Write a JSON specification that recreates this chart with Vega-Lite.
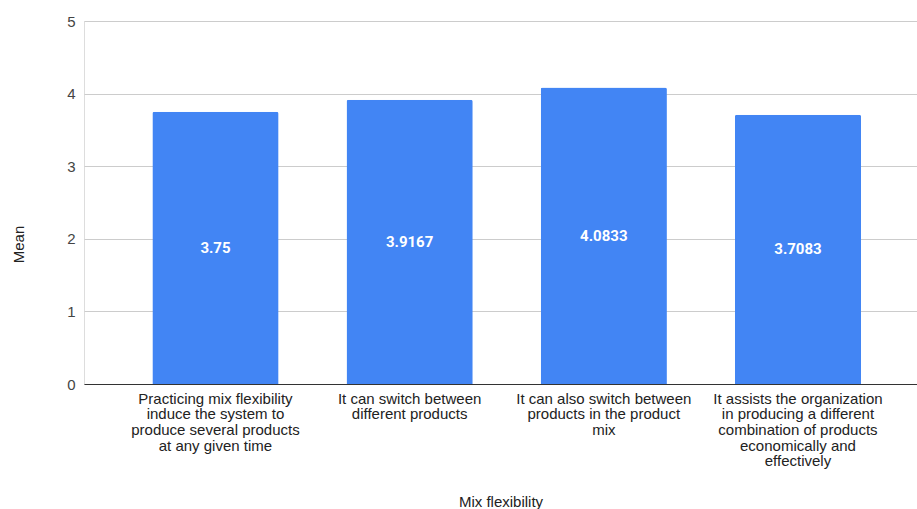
{
  "$schema": "https://vega.github.io/schema/vega-lite/v6.json",
  "autosize": "none",
  "width": 833,
  "height": 363,
  "padding": {"left": 84, "top": 21, "right": 0, "bottom": 125},
  "background": "white",
  "data": {
    "values": [
      {"item": "Practicing mix flexibility|induce the system to|produce several products|at any given time", "mean": 3.75},
      {"item": "It can switch between|different products", "mean": 3.9167},
      {"item": "It can also switch between|products in the product|mix", "mean": 4.0833},
      {"item": "It assists the organization|in producing a different|combination of products|economically and|effectively", "mean": 3.7083}
    ]
  },
  "encoding": {
    "x": {
      "field": "item",
      "type": "nominal",
      "sort": null,
      "scale": {"paddingInner": 0.35, "paddingOuter": 0.32, "align": 0.55},
      "axis": {
        "title": "Mix flexibility",
        "titleFont": "Liberation Sans",
        "titleFontSize": 15,
        "titleFontWeight": "normal",
        "titleColor": "#222222",
        "titleY": 117,
        "titleBaseline": "middle",
        "labelExpr": "split(datum.value, '|')",
        "labelAngle": 0,
        "labelFont": "Liberation Sans",
        "labelFontSize": 15,
        "labelColor": "#222222",
        "labelLineHeight": 15.7,
        "labelPadding": 7,
        "labelBaseline": "top",
        "labelLimit": 0,
        "ticks": false,
        "domainColor": "#333333",
        "domainWidth": 1,
        "grid": false
      }
    }
  },
  "layer": [
    {
      "mark": {"type": "bar", "color": "#4285F4", "cornerRadiusTopLeft": 2, "cornerRadiusTopRight": 2},
      "encoding": {
        "y": {
          "field": "mean",
          "type": "quantitative",
          "scale": {"domain": [0, 5]},
          "axis": {
            "title": "Mean",
            "titleFont": "Liberation Sans",
            "titleFontSize": 15,
            "titleFontWeight": "normal",
            "titleColor": "#222222",
            "titleX": -66,
            "titleY": 223,
            "titleAngle": -90,
            "titleBaseline": "middle",
            "titleAlign": "center",
            "values": [0, 1, 2, 3, 4, 5],
            "labelFont": "Liberation Sans",
            "labelFontSize": 15,
            "labelColor": "#444444",
            "labelPadding": 9,
            "ticks": false,
            "domain": false,
            "gridColor": "#cccccc",
            "gridWidth": 1
          }
        }
      }
    },
    {
      "mark": {"type": "text", "color": "white", "font": "Roboto", "fontSize": 15, "fontWeight": "bold", "baseline": "middle"},
      "encoding": {
        "y": {"field": "mean", "type": "quantitative", "scale": {"domain": [0, 10]}, "axis": null},
        "text": {"field": "mean", "type": "quantitative", "format": ".5~f"}
      }
    }
  ],
  "resolve": {"scale": {"y": "independent"}, "axis": {"y": "independent"}}
}
